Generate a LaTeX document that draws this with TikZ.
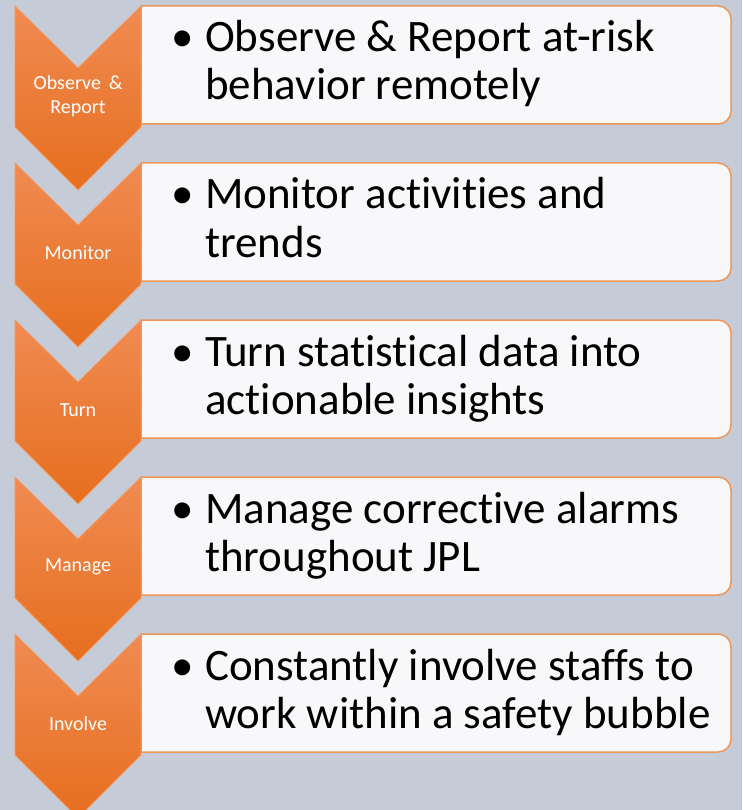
\documentclass[tikz,border=0pt]{standalone}
\usepackage{fontspec}
\setmainfont{Carlito}[Ligatures=NoCommon]
\definecolor{SlateBg}{HTML}{C5CCD8}
\definecolor{ChevTop}{HTML}{F08B52}
\definecolor{ChevMid}{HTML}{F47B2B}
\definecolor{ChevBot}{HTML}{E66E1E}
\definecolor{ChevEdge}{HTML}{F29A64}
\definecolor{CardFill}{HTML}{F8F8FA}
\definecolor{CardEdge}{HTML}{EE9656}
% chevron and card outlines, #1 = top edge of the row
\newcommand{\chevshape}[1]{(15,#1) -- (78,#1+62) -- (141,#1) -- (141,#1+121) -- (78,#1+184) -- (15,#1+121) -- cycle}
\newcommand{\cardshape}[1]{(141,#1+59) -- (141,#1) -- (400,#1) [rounded corners=13pt] -- (731,#1) -- (731,#1+118) -- (400,#1+118) [sharp corners] -- (141,#1+118) -- cycle}
\usetikzlibrary{positioning}

\begin{document}
\begin{tikzpicture}[x=1pt, y=-1pt,
    chev/.style={top color=ChevTop, middle color=ChevMid, bottom color=ChevBot,
      draw=ChevEdge, line width=0.8pt},
    card/.style={fill=CardFill, draw=CardEdge, line width=1.5pt},
    tag/.style={text=white, font=\fontsize{20}{24}\selectfont, align=center, inner sep=0pt},
    item/.style={font=\fontsize{45}{48}\selectfont, align=left, inner sep=0pt, anchor=base west}
  ]
    \useasboundingbox (0,0) rectangle (742,810);
    \fill[SlateBg] (0,0) rectangle (742,810);

    \filldraw[card] \cardshape{6};
    \filldraw[card] \cardshape{163};
    \filldraw[card] \cardshape{320};
    \filldraw[card] \cardshape{477};
    \filldraw[card] \cardshape{634};

    \shadedraw[chev] \chevshape{6};
    \shadedraw[chev] \chevshape{163};
    \shadedraw[chev] \chevshape{320};
    \shadedraw[chev] \chevshape{477};
    \shadedraw[chev] \chevshape{634};

    \node[tag] (observe) at (78,96) {Observe\,\ \&\\Report};
    \node[tag] (monitor) at (78,253) {Monitor};
    \node[tag] (turn) at (78,410) {Turn};
    \node[tag] (manage) at (78,567) {Manage};
    \node[tag] (involve) at (78,724) {Involve};

    % base west = baseline of the second line
    \node[item] (observeTxt) at (171,100) {\makebox[34pt][l]{\textbullet}Observe \& Report at-risk\\\hspace*{34pt}behavior remotely};
    \node[item] (monitorTxt) at (171,257) {\makebox[34pt][l]{\textbullet}Monitor activities and\\\hspace*{34pt}trends};
    \node[item] (turnTxt) at (171,414) {\makebox[34pt][l]{\textbullet}Turn statistical data into\\\hspace*{34pt}actionable insights};
    \node[item] (manageTxt) at (171,571) {\makebox[34pt][l]{\textbullet}Manage corrective alarms\\\hspace*{34pt}throughout JPL};
    \node[item] (involveTxt) at (171,728) {\makebox[34pt][l]{\textbullet}Constantly involve staffs to\\\hspace*{34pt}work within a safety bubble};
  \end{tikzpicture}
\end{document}
